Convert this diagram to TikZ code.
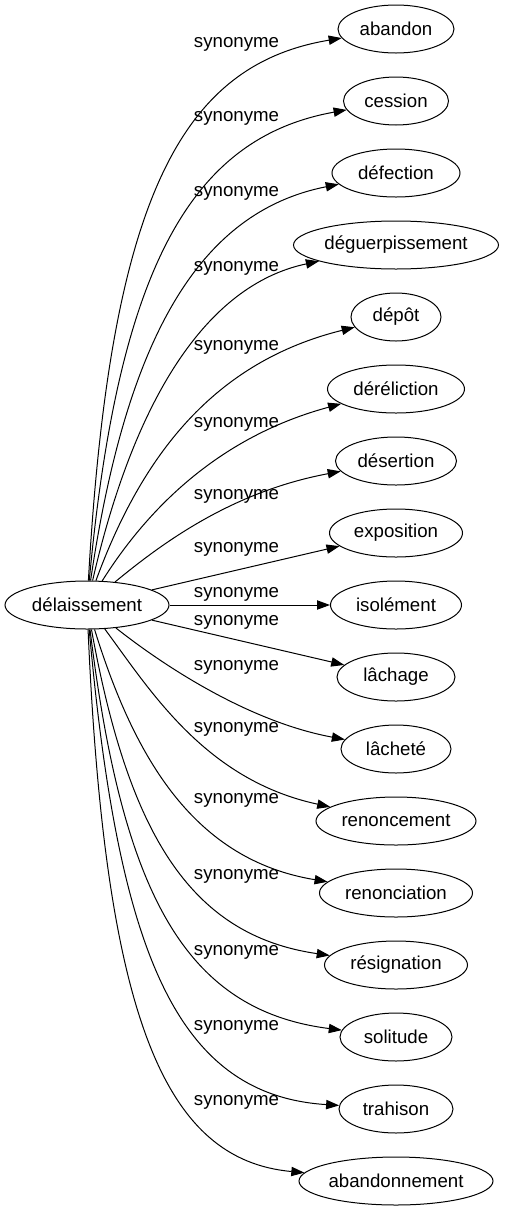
\documentclass[tikz,border=0pt]{standalone}
\usepackage{fontspec}
\setmainfont{Liberation Sans}
\usetikzlibrary{shapes.geometric,arrows.meta}
\begin{document}
\begin{tikzpicture}[x=1pt,y=-1pt]
		\tikzstyle{word}=[draw, ellipse, line width=1pt, minimum height=48pt, inner xsep=0pt, inner ysep=2pt, font=\fontsize{18.67}{22}\selectfont]
		\tikzstyle{rel}=[inner sep=0pt, font=\fontsize{18.67}{22}\selectfont]
		\tikzstyle{syn}=[line width=1pt, -{Triangle[length=13pt,width=9.3pt]}]
		\useasboundingbox (0,0) rectangle (504,1211);
		
		\node (delaissement) at (87,605) [word, minimum width=164pt] {délaissement};
		
		\node (abandon) at (396,29) [word, minimum width=116pt] {abandon};
		\node (cession) at (396,101) [word, minimum width=105pt] {cession};
		\node (defection) at (396,173) [word, minimum width=128pt] {défection};
		\node (deguerpissement) at (396,245) [word, minimum width=205pt] {déguerpissement};
		\node (depot) at (396,317) [word, minimum width=90pt] {dépôt};
		\node (dereliction) at (396,389) [word, minimum width=137pt] {déréliction};
		\node (desertion) at (396,461) [word, minimum width=121pt] {désertion};
		\node (exposition) at (396,533) [word, minimum width=133pt] {exposition};
		\node (isolement) at (396,605) [word, minimum width=131pt] {isolément};
		\node (lachage) at (396,677) [word, minimum width=118pt] {lâchage};
		\node (lachete) at (396,749) [word, minimum width=110pt] {lâcheté};
		\node (renoncement) at (396,821) [word, minimum width=160pt] {renoncement};
		\node (renonciation) at (396,893) [word, minimum width=153pt] {renonciation};
		\node (resignation) at (396,965) [word, minimum width=143pt] {résignation};
		\node (solitude) at (396,1037) [word, minimum width=112pt] {solitude};
		\node (trahison) at (396,1109) [word, minimum width=114pt] {trahison};
		\node (abandonnement) at (396,1181) [word, minimum width=194pt] {abandonnement};
		
		\node (l1) at (236.5,44) [rel] {synonyme};
		\node (l2) at (236.5,118) [rel] {synonyme};
		\node (l3) at (236.5,193) [rel] {synonyme};
		\node (l4) at (236.5,268) [rel] {synonyme};
		\node (l5) at (236.5,347) [rel] {synonyme};
		\node (l6) at (236.5,424) [rel] {synonyme};
		\node (l7) at (236.5,496) [rel] {synonyme};
		\node (l8) at (236.5,549) [rel] {synonyme};
		\node (l9) at (236.5,594) [rel] {synonyme};
		\node (l10) at (236.5,622) [rel] {synonyme};
		\node (l11) at (236.5,667) [rel] {synonyme};
		\node (l12) at (236.5,729) [rel] {synonyme};
		\node (l13) at (236.5,800) [rel] {synonyme};
		\node (l14) at (236.5,876) [rel] {synonyme};
		\node (l15) at (236.5,952) [rel] {synonyme};
		\node (l16) at (236.5,1027) [rel] {synonyme};
		\node (l17) at (236.5,1102) [rel] {synonyme};
		
		\draw[syn] (delaissement) .. controls (110,200) and (180,65) .. (abandon);
		\draw[syn] (delaissement) .. controls (118,270) and (190,138) .. (cession);
		\draw[syn] (delaissement) .. controls (126,340) and (198,212) .. (defection);
		\draw[syn] (delaissement) .. controls (134,400) and (206,285) .. (deguerpissement);
		\draw[syn] (delaissement) .. controls (142,455) and (214,362) .. (depot);
		\draw[syn] (delaissement) .. controls (150,505) and (222,436) .. (dereliction);
		\draw[syn] (delaissement) .. controls (160,545) and (230,492) .. (desertion);
		\draw[syn] (delaissement) -- (exposition);
		\draw[syn] (delaissement) -- (isolement);
		\draw[syn] (delaissement) -- (lachage);
		\draw[syn] (delaissement) .. controls (150,655) and (240,720) .. (lachete);
		\draw[syn] (delaissement) .. controls (150,690) and (205,780) .. (renoncement);
		\draw[syn] (delaissement) .. controls (135,760) and (195,860) .. (renonciation);
		\draw[syn] (delaissement) .. controls (128,830) and (188,935) .. (resignation);
		\draw[syn] (delaissement) .. controls (122,890) and (183,1010) .. (solitude);
		\draw[syn] (delaissement) .. controls (118,950) and (175,1095) .. (trahison);
		\draw[syn] (delaissement) .. controls (105,1020) and (165,1160) .. (abandonnement);
		
\end{tikzpicture}
\end{document}
